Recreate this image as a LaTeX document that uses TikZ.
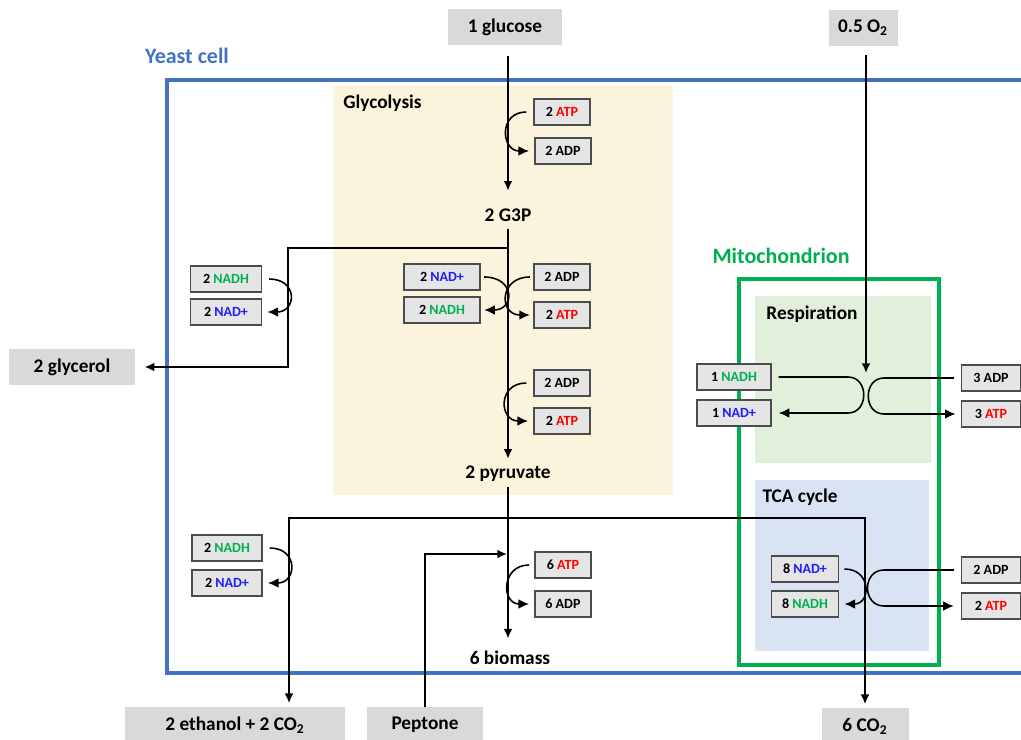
\documentclass[tikz,border=0pt]{standalone}
\usepackage{fontspec}
\setmainfont{Carlito}
\usetikzlibrary{arrows.meta,positioning,calc}

\definecolor{cellblue}{RGB}{68,114,196}
\definecolor{mitogreen}{RGB}{0,176,80}
\definecolor{glyfill}{RGB}{251,244,221}
\definecolor{resfill}{RGB}{226,239,218}
\definecolor{tcafill}{RGB}{218,227,243}
\definecolor{atpred}{RGB}{255,0,0}
\definecolor{nadblue}{RGB}{30,30,255}
\definecolor{nadhgreen}{RGB}{0,176,80}
\newcommand{\ATP}{\textcolor{atpred}{ATP}}
\newcommand{\NADp}{\textcolor{nadblue}{NAD+}}
\newcommand{\NADH}{\textcolor{nadhgreen}{NADH}}

\begin{document}
\begin{tikzpicture}[x=0.02cm, y=-0.02cm,
  ext/.style={fill=black!15, inner sep=0pt, minimum height=0.72cm, font=\fontsize{11}{13}\selectfont\bfseries},
  mol/.style={draw=black!70, fill=black!10, line width=0.8pt, inner sep=0pt, minimum width=1.12cm, minimum height=0.52cm, font=\fontsize{8}{10}\selectfont\bfseries},
  met/.style={inner sep=0pt, font=\fontsize{11}{13}\selectfont\bfseries},
  flux/.style={line width=1pt, -{Latex[length=5.5pt,width=5pt]}},
  cof/.style={line width=0.9pt, -{Latex[length=6pt,width=5.5pt]}}]
\useasboundingbox (0,0) rectangle (1021,740);

% compartments
\fill[glyfill] (333,86) rectangle (673,495);
\fill[resfill] (755,296) rectangle (931,463);
\fill[tcafill] (755,480) rectangle (929,651);
\draw[cellblue, line width=2pt] (167,80) rectangle (1040,673);
\draw[mitogreen, line width=2.4pt] (739,279) rectangle (939,665);

\node[met, text=cellblue, font=\fontsize{12.5}{14}\selectfont\bfseries] (cell) at (187,56) {Yeast cell};
\node[met, text=mitogreen, font=\fontsize{12.5}{14}\selectfont\bfseries] (mito) at (781,256) {Mitochondrion};
\node[met, anchor=west] (gly) at (343,103) {Glycolysis};
\node[met] (resp) at (812,314) {Respiration};
\node[met] (tca) at (800,497) {TCA cycle};

% inputs and outputs
\node[ext, minimum width=2.3cm] (glc) at (505,27) {1 glucose};
\node[ext, minimum width=1.38cm] (o2) at (863,28) {0.5 O\textsubscript{2}};
\node[ext, minimum width=2.54cm] (glyc) at (72,367) {2 glycerol};
\node[ext, minimum width=4.4cm] (eth) at (235,725) {2 ethanol + 2 CO\textsubscript{2}};
\node[ext, minimum width=2.32cm] (pep) at (425,725) {Peptone};
\node[ext, minimum width=1.74cm] (co2) at (865,726) {6 CO\textsubscript{2}};

% metabolites
\node[met] (g3p) at (508,215) {2 G3P};
\node[met] (pyr) at (508,474) {2 pyruvate};
\node[met] (bio) at (510,658) {6 biomass};

% cofactors
\node[mol] (atp1) at (562,112) {2 \ATP};
\node[mol] (adp1) at (563,151) {2 ADP};
\node[mol, minimum width=1.42cm] (lnadh) at (226,279) {2 \NADH};
\node[mol, minimum width=1.42cm] (lnad) at (226,312) {2 \NADp};
\node[mol, minimum width=1.52cm] (mnad) at (442,277) {2 \NADp};
\node[mol, minimum width=1.52cm] (mnadh) at (442,310) {2 \NADH};
\node[mol] (adp2) at (562,277) {2 ADP};
\node[mol] (atp2) at (562,315) {2 \ATP};
\node[mol] (adp3) at (562,383) {2 ADP};
\node[mol] (atp3) at (562,421) {2 \ATP};
\node[mol, minimum width=1.4cm] (bnadh) at (227,548) {2 \NADH};
\node[mol, minimum width=1.4cm] (bnad) at (227,583) {2 \NADp};
\node[mol] (atp4) at (563,565) {6 \ATP};
\node[mol] (adp4) at (563,604) {6 ADP};
\node[mol, minimum width=1.48cm] (rnadh) at (734,377) {1 \NADH};
\node[mol, minimum width=1.48cm] (rnad) at (734,413) {1 \NADp};
\node[mol, minimum width=1.18cm] (radp) at (991,378) {3 ADP};
\node[mol, minimum width=1.18cm] (ratp) at (991,414) {3 \ATP};
\node[mol, minimum width=1.34cm] (tnad) at (805,569) {8 \NADp};
\node[mol, minimum width=1.34cm] (tnadh) at (805,604) {8 \NADH};
\node[mol, minimum width=1.18cm] (tadp) at (991,570) {2 ADP};
\node[mol, minimum width=1.18cm] (tatp) at (991,606) {2 \ATP};

% main fluxes
\coordinate (b1) at (508,248);
\coordinate (b2) at (508,518);
\coordinate (pin) at (507,554);
\coordinate (oin) at (866,373);
\draw[flux, shorten <=6pt, shorten >=10pt] (glc.south -| g3p) -- (g3p.north);
\draw[flux, shorten <=4pt, shorten >=4pt] (g3p.south) -- (pyr.north);
\draw[flux, shorten <=3pt, shorten >=7pt] (pyr.south) -- (pyr.south |- bio.north);
\draw[flux, shorten >=5pt] (b1) -| (288,367) -- (glyc.east);
\draw[flux, shorten >=2pt] (b2) -| ($(eth.north)+(54,0)$);
\draw[flux, shorten >=2pt] (b2) -| (co2.north);
\draw[flux] (pep.north) |- (pin);
\draw[flux, shorten <=5pt] (o2.south -| oin) -- (oin);

% cofactor exchanges
\draw[cof] ([xshift=-4pt]atp1.west) .. controls +(-28,0) and +(-28,0) .. ([xshift=-3pt]adp1.west);
\draw[cof] ([xshift=4pt]lnadh.east) .. controls +(29,0) and +(29,0) .. ([xshift=3pt]lnad.east);
\draw[cof] ([xshift=2pt]mnad.east) .. controls +(31,0) and +(31,0) .. ([xshift=2pt]mnadh.east);
\draw[cof] ([xshift=-2pt]adp2.west) .. controls +(-31,0) and +(-31,0) .. ([xshift=-2pt]atp2.west);
\draw[cof] ([xshift=-4pt]adp3.west) .. controls +(-29,0) and +(-29,0) .. ([xshift=-3pt]atp3.west);
\draw[cof] ([xshift=4pt]bnadh.east) .. controls +(29,0) and +(29,0) .. ([xshift=3pt]bnad.east);
\draw[cof] ([xshift=-3pt]atp4.west) .. controls +(-28,0) and +(-28,0) .. ([xshift=-3pt]adp4.west);
\draw[cof] ([xshift=4pt]rnadh.east) -- (848,377) .. controls +(21,0) and +(21,0) .. (848,413) -- ([xshift=4pt]rnad.east);
\draw[cof] ([xshift=-4pt]radp.west) -- (884,378) .. controls +(-21,0) and +(-21,0) .. (884,414) -- ([xshift=-3pt]ratp.west);
\draw[cof] ([xshift=3pt]tnad.east) .. controls +(27,0) and +(27,0) .. ([xshift=3pt]tnadh.east);
\draw[cof] ([xshift=-4pt]tadp.west) -- (884,570) .. controls +(-22,0) and +(-22,0) .. (884,606) -- ([xshift=-4pt]tatp.west);
\end{tikzpicture}
\end{document}
